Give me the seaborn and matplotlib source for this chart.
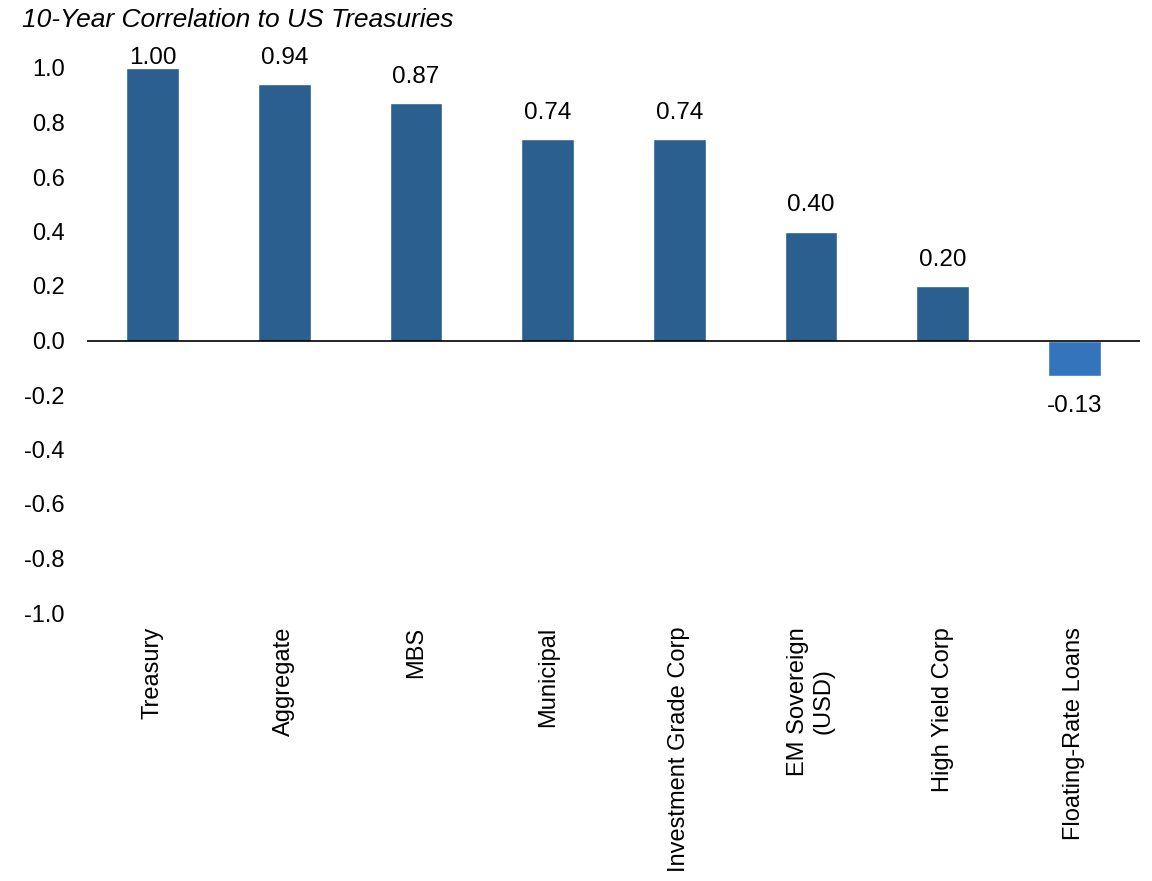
import matplotlib
matplotlib.use('Agg')
import matplotlib.pyplot as plt
import seaborn as sns
import pandas as pd

categories = ['Treasury', 'Aggregate', 'MBS', 'Municipal', 'Investment Grade Corp',
              'EM Sovereign\n(USD)', 'High Yield Corp', 'Floating-Rate Loans']
values = [1.00, 0.94, 0.87, 0.74, 0.74, 0.40, 0.20, -0.13]
y_ticks = [-1.0, -0.8, -0.6, -0.4, -0.2, 0.0, 0.2, 0.4, 0.6, 0.8, 1.0]

sns.set_style('white')
plt.rcParams['font.family'] = ['Liberation Sans', 'DejaVu Sans']
plt.rcParams['text.color'] = 'black'
plt.rcParams['xtick.color'] = 'black'
plt.rcParams['ytick.color'] = 'black'

df = pd.DataFrame({'category': categories, 'value': values})
colors = ['#2A5F8F' if v >= 0 else '#3474BC' for v in values]

fig = plt.figure(figsize=(11.52, 8.81), dpi=100)
ax = fig.add_axes([87 / 1152, 1 - 613 / 881, (1140 - 87) / 1152, (613 - 68) / 881])

sns.barplot(data=df, x='category', y='value', hue='category', palette=colors,
            legend=False, width=0.4, saturation=1, ax=ax)

ax.set_xlim(-0.5, len(categories) - 0.5)
ax.set_ylim(-1.0, 1.0)
ax.set_yticks(y_ticks)
ax.set_yticklabels([f'{t:.1f}' for t in y_ticks], fontsize=17)
ax.tick_params(axis='y', length=0, pad=16)
ax.tick_params(axis='x', length=0, pad=10)
ax.set_xticks(range(len(categories)))
ax.set_xticklabels(categories, rotation=90, fontsize=17, va='top', ha='center',
                   multialignment='center')
ax.set_xlabel('')
ax.set_ylabel('')
for s in ax.spines.values():
    s.set_visible(False)
ax.axhline(0, color='black', linewidth=1.2, zorder=3)

for i, v in enumerate(values):
    if v >= 0:
        ax.annotate(f'{v:.2f}', (i, min(v, 0.94)), xytext=(0, 11), textcoords='offset points',
                    ha='center', va='bottom', fontsize=17.5)
    else:
        ax.annotate(f'{v:.2f}', (i, v), xytext=(0, -14), textcoords='offset points',
                    ha='center', va='top', fontsize=17.5)

fig.text(22 / 1152, 1 - 20 / 881, '10-Year Correlation to US Treasuries',
         fontsize=19, style='italic', ha='left', va='center')

fig.savefig('out.png', dpi=100)
